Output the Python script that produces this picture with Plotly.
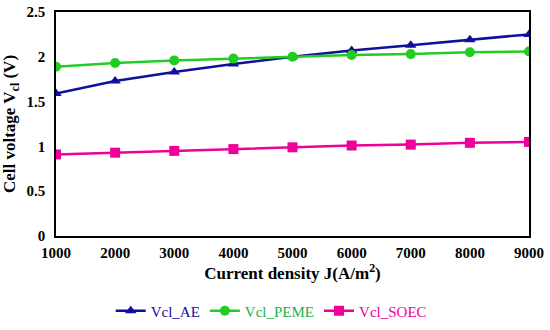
import plotly.graph_objects as go

current_density = [1000, 2000, 3000, 4000, 5000, 6000, 7000, 8000, 9000]
vcl_ae = [1.59, 1.73, 1.83, 1.92, 2.00, 2.07, 2.13, 2.19, 2.25]
vcl_peme = [1.89, 1.93, 1.96, 1.98, 2.00, 2.02, 2.03, 2.05, 2.06]
vcl_soec = [0.91, 0.93, 0.95, 0.97, 0.99, 1.01, 1.02, 1.04, 1.05]

series = [
    ("Vcl_AE", vcl_ae, "#10109A", "#10109A", "triangle-up"),
    ("Vcl_PEME", vcl_peme, "#22CC22", "#1DAF4B", "circle"),
    ("Vcl_SOEC", vcl_soec, "#EE0099", "#EE0099", "square"),
]

fig = go.Figure()
for name, vals, color, tcolor, sym in series:
    fig.add_trace(go.Scatter(
        x=current_density, y=vals, mode="lines+markers",
        name=f"<span style='color:{tcolor}'>{name}</span>",
        line=dict(color=color, width=2.5),
        marker=dict(symbol=sym, size=10, color=color),
    ))

font_family = "Liberation Serif, Times New Roman, serif"
fig.update_layout(
    width=550, height=330,
    margin=dict(l=56, r=21, t=12, b=94, autoexpand=False),
    paper_bgcolor="white", plot_bgcolor="white",
    font=dict(family=font_family, color="black"),
    showlegend=True,
    legend=dict(orientation="h", x=0.455, xanchor="center", y=-0.335, yanchor="middle",
                font=dict(size=15, family=font_family), itemwidth=30, tracegroupgap=0),
    xaxis=dict(
        range=[1000, 9000], tickvals=current_density, showgrid=False, automargin=False,
        showline=True, linecolor="black", linewidth=1.5, mirror=True, ticks="",
        tickfont=dict(size=15, weight="bold"), ticklabelstandoff=2,
        title=dict(text="Current density J(A/m<sup>2</sup>)", font=dict(size=17, weight="bold"), standoff=6),
        zeroline=False,
    ),
    yaxis=dict(
        range=[0, 2.5], tickvals=[0, 0.5, 1, 1.5, 2, 2.5], showgrid=False, automargin=False,
        showline=True, linecolor="black", linewidth=1.5, mirror=True, ticks="",
        tickfont=dict(size=15, weight="bold"), ticklabelstandoff=6,
        title=dict(text="Cell voltage V<sub>cl</sub> (V)", font=dict(size=17, weight="bold"), standoff=8),
        zeroline=False,
    ),
)

fig.write_html("out.html", config={"displayModeBar": False},
               post_script="document.body.style.margin='0';document.body.style.overflow='hidden';")
